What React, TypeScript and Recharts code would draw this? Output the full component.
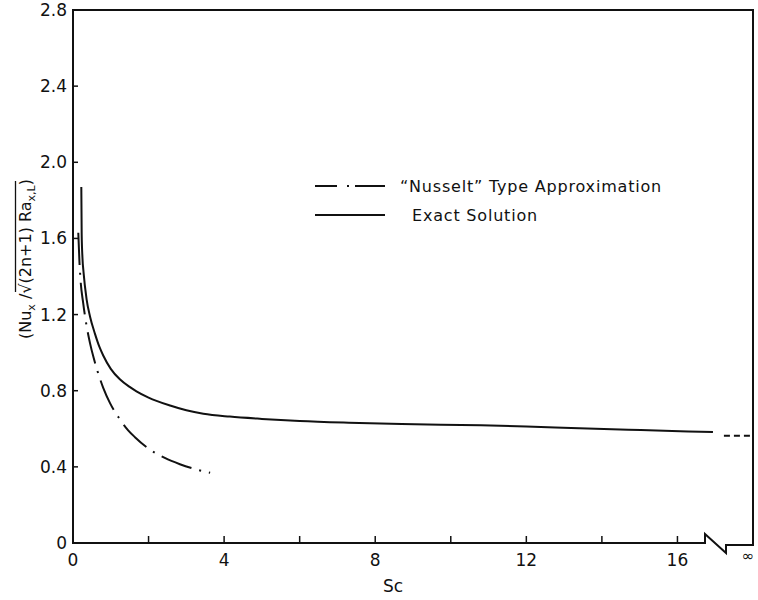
import React from 'react';
import { LineChart, Line, XAxis, YAxis, Customized } from 'recharts';

// Exact solution (solid)
const exactSc = [0.22, 0.23, 0.25, 0.28, 0.36, 0.45, 0.58, 0.7, 0.8, 1.0, 1.24, 1.5, 1.68, 2.0, 2.57, 3.0, 3.45, 4.15, 5.0, 6.0, 7.3, 8.7, 10.8, 12.0, 13.4, 14.7, 16.07, 16.94];
const exactValue = [1.87, 1.62, 1.5, 1.42, 1.28, 1.19, 1.1, 1.03, 0.985, 0.915, 0.86, 0.82, 0.797, 0.764, 0.722, 0.697, 0.679, 0.664, 0.652, 0.641, 0.632, 0.625, 0.618, 0.612, 0.603, 0.595, 0.587, 0.583];

// "Nusselt" type approximation (dash-dot)
const nusseltSc = [0.14, 0.17, 0.2, 0.27, 0.36, 0.45, 0.55, 0.63, 0.71, 0.8, 0.98, 1.24, 1.46, 1.64, 2.0, 2.43, 2.83, 3.2, 3.63];
const nusseltValue = [1.63, 1.48, 1.38, 1.26, 1.14, 1.05, 0.97, 0.915, 0.865, 0.815, 0.735, 0.65, 0.592, 0.556, 0.496, 0.447, 0.414, 0.39, 0.369];

// asymptotic value at Sc -> infinity (dashed)
const limitSc = [17.23, 18];
const limitValue = [0.564, 0.564];

const xTicks = [0, 2, 4, 6, 8, 10, 12, 14, 16, 18];
const xLabelled = [0, 4, 8, 12, 16];
const yTicks = [0, 0.4, 0.8, 1.2, 1.6, 2.0, 2.4, 2.8];

const exactData = exactSc.map((x, i) => ({ x, y: exactValue[i] }));
const nusseltData = nusseltSc.map((x, i) => ({ x, y: nusseltValue[i] }));
const limitData = limitSc.map((x, i) => ({ x, y: limitValue[i] }));

const FONT = '"DejaVu Sans", sans-serif';
const INK = '#111';
const PL = 73;
const PR = 753;
const PT = 10;
const PB = 543;

function XTick(props: any) {
  const { x, payload } = props;
  const v = payload.value;
  if (v === 18) {
    return (
      <text x={x - 5} y={PB + 13} textAnchor="middle" dominantBaseline="central" fontSize={15} fill={INK} fontFamily={FONT}>
        ∞
      </text>
    );
  }
  return (
    <g>
      <line x1={x} x2={x} y1={PB} y2={PB - 7} stroke={INK} strokeWidth={1.5} />
      {xLabelled.includes(v) && (
        <text x={x} y={PB + 17} textAnchor="middle" dominantBaseline="central" fontSize={17} fill={INK} fontFamily={FONT}>
          {v}
        </text>
      )}
    </g>
  );
}

function YTick(props: any) {
  const { y, payload } = props;
  const v = payload.value;
  return (
    <g>
      <line x1={PL} x2={PL + 5} y1={y} y2={y} stroke={INK} strokeWidth={1.5} />
      <text x={PL - 6} y={y} textAnchor="end" dominantBaseline="central" fontSize={17} fill={INK} fontFamily={FONT}>
        {v === 0 ? '0' : v.toFixed(1)}
      </text>
    </g>
  );
}

function YLabel() {
  return (
    <g>
      <text transform="rotate(-90)" x={-259} y={31} textAnchor="middle" fontSize={16} fill={INK} fontFamily={FONT}>
        (Nu<tspan dy={4} fontSize={11}>x</tspan>
        <tspan dy={-4}> /</tspan>
        <tspan>√</tspan>
        <tspan>(2n+1) Ra</tspan>
        <tspan dy={4} fontSize={11}>x,L</tspan>
        <tspan dy={-4}>)</tspan>
      </text>
      <line x1={15.5} x2={15.5} y1={181} y2={292} stroke={INK} strokeWidth={1.3} />
    </g>
  );
}

function LegendSvg() {
  const rows = [
    { label: '“Nusselt” Type Approximation', dash: '22 10 2 6 30', y: 186, tx: 400 },
    { label: 'Exact Solution', dash: undefined, y: 215, tx: 412 },
  ];
  return (
    <g>
      {rows.map((r) => (
        <g key={r.label}>
          <line x1={315} x2={385} y1={r.y} y2={r.y} stroke={INK} strokeWidth={2} strokeDasharray={r.dash} />
          <text x={r.tx} y={r.y} dominantBaseline="central" fontSize={16} letterSpacing={0.8} fill={INK} fontFamily={FONT}>
            {r.label}
          </text>
        </g>
      ))}
    </g>
  );
}

function Frame() {
  return (
    <g>
      <path
        d={`M${PL},${PB} L705,${PB} L705,534 L726,553 L726,545 L${PR},545 L${PR},${PT} L${PL},${PT} Z`}
        fill="none"
        stroke={INK}
        strokeWidth={2}
      />
      <YLabel />
      <LegendSvg />
      <text x={393} y={586} textAnchor="middle" dominantBaseline="central" fontSize={17} fill={INK} fontFamily={FONT}>
        Sc
      </text>
    </g>
  );
}

export default function App() {
  return (
    <div style={{ position: 'absolute', left: 0, top: 0, background: '#fff' }}>
      <LineChart width={758} height={600} margin={{ top: PT, right: 758 - PR, bottom: 0, left: 0 }}>
        <XAxis
          type="number"
          dataKey="x"
          domain={[0, 18]}
          ticks={xTicks}
          interval={0}
          height={600 - PB}
          axisLine={false}
          tickLine={false}
          tick={<XTick />}
          allowDuplicatedCategory={false}
        />
        <YAxis
          type="number"
          dataKey="y"
          domain={[0, 2.8]}
          ticks={yTicks}
          interval={0}
          width={PL}
          axisLine={false}
          tickLine={false}
          tick={<YTick />}
        />
        <Line data={exactData} dataKey="y" type="monotone" stroke={INK} strokeWidth={2} dot={false} isAnimationActive={false} />
        <Line data={nusseltData} dataKey="y" type="monotone" stroke={INK} strokeWidth={2} strokeDasharray="32 8 2 8" dot={false} isAnimationActive={false} />
        <Line data={limitData} dataKey="y" type="linear" stroke={INK} strokeWidth={2} strokeDasharray="6 4" dot={false} isAnimationActive={false} />
        <Customized component={Frame} />
      </LineChart>
    </div>
  );
}
